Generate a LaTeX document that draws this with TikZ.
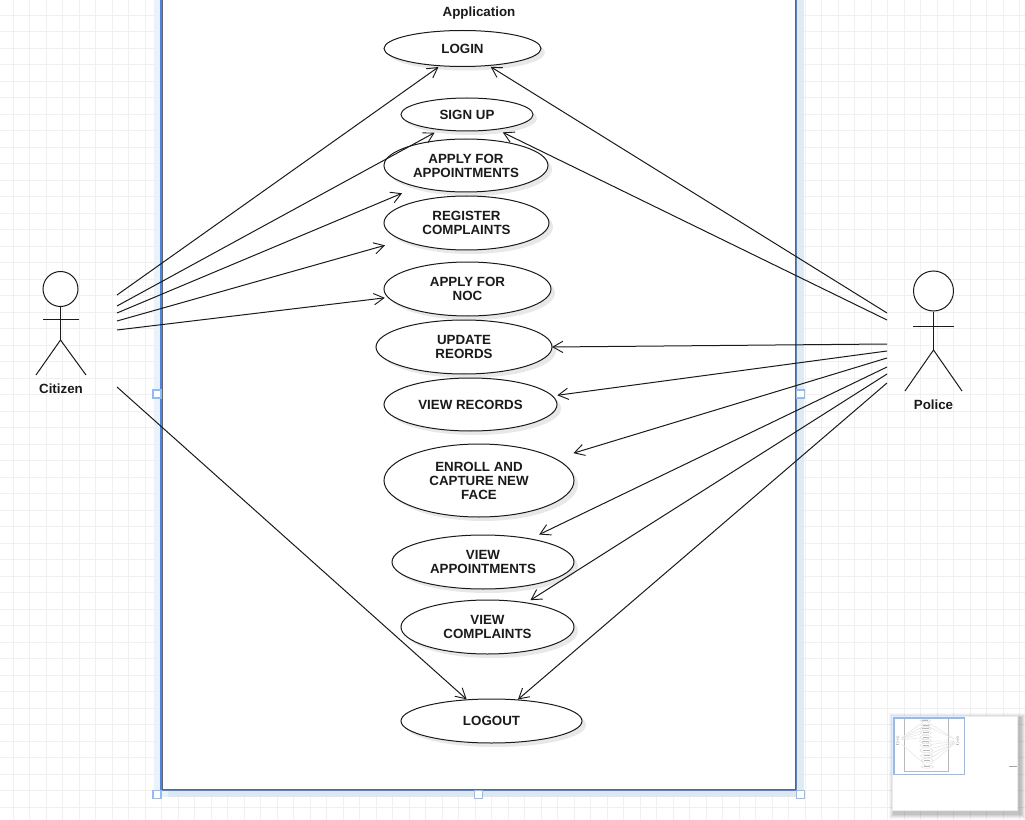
\documentclass[tikz,border=0pt]{standalone}
\usepackage{fontspec}
\setmainfont{Liberation Sans}
\usetikzlibrary{arrows.meta,shapes.geometric,shadows}
\definecolor{gridline}{HTML}{F0F0F0}
\definecolor{selblue}{HTML}{4A86E0}
\definecolor{handleblue}{HTML}{8FBBFA}
\definecolor{haloleft}{HTML}{E8F1FC}
\definecolor{haloright}{HTML}{DDE8F5}
\definecolor{ink}{HTML}{1A1A1A}
\tikzset{
  x=0.75pt,y=-0.75pt,
  usecase/.style={ellipse,draw=ink,line width=0.75pt,fill=white,inner sep=0pt,outer sep=0pt,align=center,
    font=\bfseries\fontsize{10}{10.5}\selectfont,text=ink,
    drop shadow={shadow xshift=3pt,shadow yshift=-3pt,opacity=0.09,fill=black}},
  assoc/.style={draw=ink,line width=0.75pt,-{Straight Barb[length=7.5pt,width=8.5pt,line width=0.7pt]}},
  limb/.style={draw=ink,line width=0.75pt},
  actorname/.style={font=\bfseries\fontsize{10}{10.5}\selectfont,text=ink,inner sep=0pt},
  handle/.style={draw=handleblue,line width=0.9pt,fill=white,minimum size=6pt,inner sep=0pt,rectangle},
}
\newcommand{\usecaseat}[6]{% name, cx, cy, rx, ry, text
  \node[usecase,minimum width=#4*1.5pt,minimum height=#5*1.5pt] (#1) at (#2,#3) {#6};}
\begin{document}
\begin{tikzpicture}
\path[use as bounding box,clip] (0,0) rectangle (1025,820);
\fill[white] (0,0) rectangle (1025,820);

% page grid
\foreach \i in {0,...,61} \draw[gridline,line width=0.6pt] ({13.3+16.5*\i},0) -- ({13.3+16.5*\i},820);
\foreach \i in {0,...,49} \draw[gridline,line width=0.6pt] (0,{15.3+16.5*\i}) -- (1025,{15.3+16.5*\i});

% selected system boundary with its halo
\fill[haloleft,opacity=.9] (153.5,-10) rectangle (161,797);
\fill[haloleft,opacity=.9] (153.5,790) rectangle (804,797);
\fill[haloright,opacity=.9] (168,790) rectangle (804,797);
\fill[haloright,opacity=.9] (796,-10) rectangle (804,797);
\node[rectangle,fill=white,draw=selblue,line width=1.1pt,inner sep=0pt,minimum width=476.5pt,minimum height=600pt] (system) at (478.75,390) {};
\draw[gray!80!black,line width=0.6pt] (162,-10) -- (162,789.4) -- (795.5,789.4) -- (795.5,-10);
\node[actorname] (systemname) at (479,13) {Application};

\usecaseat{login}{462.5}{48.5}{78.5}{18}{LOGIN}
\usecaseat{signup}{467}{114.5}{66}{16.5}{SIGN UP}
\usecaseat{apply}{466}{165.5}{82}{26.5}{APPLY FOR\\APPOINTMENTS}
\usecaseat{register}{466.5}{223}{82.5}{27}{REGISTER\\COMPLAINTS}
\usecaseat{noc}{467.5}{289}{83.5}{27}{APPLY FOR\\NOC}
\usecaseat{update}{464}{347}{88}{27}{UPDATE\\REORDS}
\usecaseat{records}{470.5}{404.5}{86.5}{26.5}{VIEW RECORDS}
\usecaseat{enroll}{479}{480.5}{95}{36.5}{ENROLL AND\\CAPTURE NEW\\FACE}
\usecaseat{appts}{483}{562}{91}{27}{VIEW\\APPOINTMENTS}
\usecaseat{complaints}{487.5}{627}{86.5}{27}{VIEW\\COMPLAINTS}
\usecaseat{logout}{491.5}{721}{90.5}{22}{LOGOUT}

% citizen actor
\node[circle,draw=ink,line width=0.75pt,fill=white,inner sep=0pt,minimum size=26.25pt] (citizenhead) at (60.5,289) {};
\coordinate (citizenhip) at (60.5,340);
\draw[limb] (citizenhead.south) -- (citizenhip);
\draw[limb] (43,319) -- (78.5,319);
\draw[limb] (36,375) -- (citizenhip) -- (86,375);
\node[actorname] (citizen) at (61,388.5) {Citizen};

% police actor
\node[circle,draw=ink,line width=0.75pt,fill=white,inner sep=0pt,minimum size=30pt] (policehead) at (933.5,291) {};
\coordinate (policehip) at (933.5,350);
\draw[limb] (policehead.south) -- (policehip);
\draw[limb] (913,326) -- (954,326);
\draw[limb] (905,391) -- (policehip) -- (962,391);
\node[actorname] (police) at (933.5,404.5) {Police};

% starting points beside the actors
\coordinate (c1) at (117,295);
\coordinate (c2) at (117,306);
\coordinate (c3) at (117,313);
\coordinate (c4) at (117,321);
\coordinate (c5) at (117,330);
\coordinate (c6) at (117,387);
\coordinate (p1) at (887,313);
\coordinate (p2) at (887,320);
\coordinate (p3) at (887,344);
\coordinate (p4) at (887,351);
\coordinate (p5) at (887,358);
\coordinate (p6) at (887,367);
\coordinate (p7) at (887,374);
\coordinate (p8) at (887,383);

% citizen associations
\draw[assoc] (c1) -- ([shift={(-1.2,1.3)}]login.217);
\draw[assoc] (c2) -- ([shift={(-4.3,3.2)}]signup.208.9);
\draw[assoc] (c3) -- ([shift={(-14.3,6.7)}]apply.203.7);
\draw[assoc] (c4) -- ([shift={(-17.7,5.2)}]register.195.6);
\draw[assoc] (c5) -- ([shift={(-3.3,0.5)}]noc.186.2);
\draw[assoc] (c6) -- ([shift={(-0.5,-0.5)}]logout.139.2);

% police associations
\draw[assoc] (p1) -- ([shift={(2,1.3)}]login.-33);
\draw[assoc] (p2) -- ([shift={(5.7,3.2)}]signup.-26.6);
\draw[assoc] (p3) -- (update.0.65);
\draw[assoc] (p4) -- ([shift={(5,-0.6)}]records.6.8);
\draw[assoc] (p5) -- ([shift={(18.3,-5.5)}]enroll.16.7);
\draw[assoc] (p6) -- ([shift={(8.9,-4.4)}]appts.26.2);
\draw[assoc] (p7) -- ([shift={(4.3,-2.7)}]complaints.32.8);
\draw[assoc] (p8) -- ([shift={(0.4,-0.4)}]logout.39.7);

% selection handles
\node[handle] (h1) at (157,394) {};
\node[handle] (h2) at (800.5,394) {};
\node[handle] (h3) at (157,794.5) {};
\node[handle] (h4) at (478.5,794.5) {};
\node[handle] (h5) at (800.5,794.5) {};

% overview panel
\foreach \o/\op in {6/.03,5/.04,4/.05,3/.06,2/.07}
  \fill[black,opacity=\op] (892.5-\o+2,716.5-\o+2) rectangle (1017.5+\o+2,810.5+\o+2);
\fill[white] (892.5,716.5) rectangle (1017.5,810.5);
\draw[gray!15,line width=0.5pt] (892.5,716.5) rectangle (1017.5,810.5);
\begin{scope}[shift={(893.5,717.4)},x=0.0516pt,y=-0.0513pt]
  \draw[gray!55,line width=0.7pt] (161.5,0) -- (161.5,790) -- (796,790) -- (796,0);
  \foreach \xa/\ya/\xb/\yb in {117/295/438/67,117/306/434/133,117/313/401/194,117/321/384/246,117/330/384/298,117/387/466/699,
      887/313/491/67,887/320/504/133,887/344/552/346,887/351/558/394,887/358/574/452,887/367/540/534,887/374/531/599,887/383/518/699}
    \draw[gray!22,line width=0.35pt] (\xa,\ya) -- (\xb,\yb);
  \foreach \cx/\cy/\rx/\ry in {462.5/48.5/78.5/18,467/114.5/66/16.5,466/165.5/82/26.5,466.5/223/82.5/27,467.5/289/83.5/27,
      464/347/88/27,470.5/404.5/86.5/26.5,479/480.5/95/36.5,483/562/91/27,487.5/627/86.5/27,491.5/721/90.5/22}{
    \fill[white] (\cx,\cy) ellipse [x radius=\rx,y radius=\ry];
    \draw[gray!30,line width=0.3pt] (\cx,\cy) ellipse [x radius=\rx,y radius=\ry];
    \fill[gray!55] (\cx-45,\cy-7) rectangle (\cx+45,\cy+7);
  }
  \foreach \cx/\cy in {61/289,933/291}{
    \draw[gray!35,line width=0.5pt] (\cx,\cy) circle [radius=18];
    \draw[gray!35,line width=0.5pt] (\cx,\cy+18) -- (\cx,\cy+55) -- (\cx-25,\cy+90) (\cx,\cy+55) -- (\cx+25,\cy+90) (\cx-20,\cy+32) -- (\cx+20,\cy+32);
    \fill[gray!50] (\cx-22,\cy+95) rectangle (\cx+22,\cy+108);
  }
\end{scope}
\draw[handleblue,line width=1.2pt] (894,718) rectangle (964.3,774.5);
\draw[gray!70,line width=0.7pt] (1009,766.3) -- (1017,766.3);
\end{tikzpicture}
\end{document}
